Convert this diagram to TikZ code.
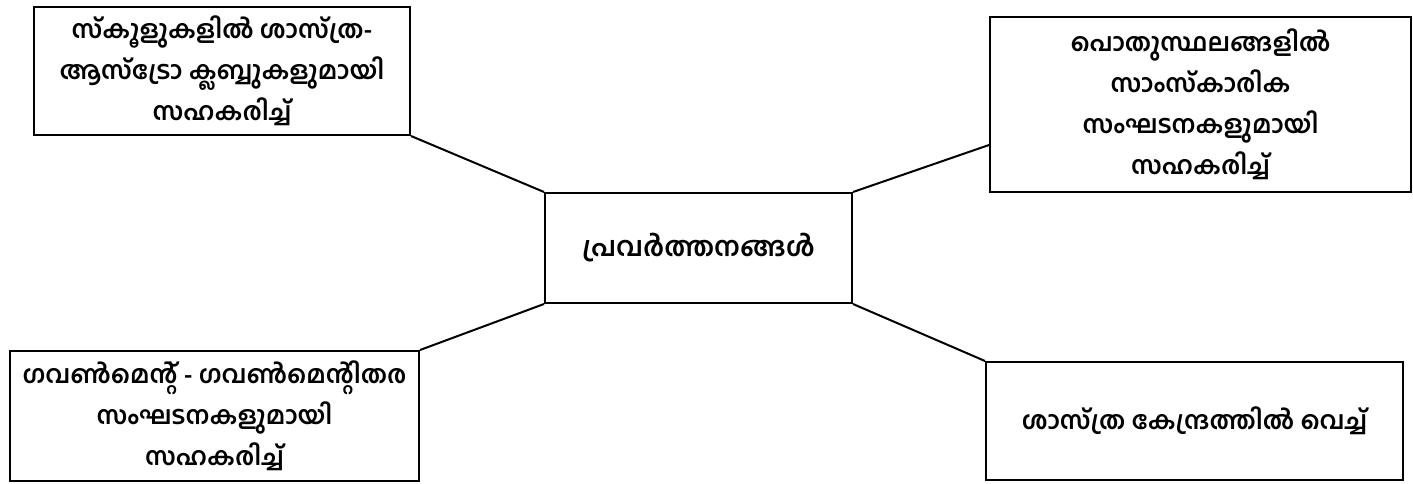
\documentclass[tikz,border=0pt]{standalone}
\usepackage{fontspec}
\newfontfamily\mlfont[Script=Malayalam]{Hind Kochi}
\tikzset{
  box/.style={draw, line width=2pt, align=center, inner sep=0pt,
    font=\mlfont\bfseries\fontsize{25}{41}\selectfont},
  link/.style={draw, line width=2pt}
}
\begin{document}
\begin{tikzpicture}[x=1pt,y=-1pt]
\useasboundingbox (0,0) rectangle (1413,483);
\node[box, minimum width=376pt, minimum height=128pt] (tl) at (222,71)
  {സ്^^^^200cകൂളുകളിൽ ശാസ്ത്ര-\\ആസ്ട്രോ ക്ലബ്ബുകളുമായി\\സഹകരിച്ച്};
\node[box, minimum width=421pt, minimum height=175pt] (tr) at (1200.5,104.5)
  {പൊതുസ്ഥലങ്ങളിൽ\\സാംസ്കാരിക\\സംഘടനകളുമായി\\സഹകരിച്ച്};
\node[box, minimum width=307pt, minimum height=110pt,
  font=\mlfont\bfseries\fontsize{27}{41}\selectfont] (c) at (698.5,248)
  {പ്രവർത്തനങ്ങൾ};
\node[box, minimum width=409pt, minimum height=130pt] (bl) at (214.5,416)
  {ഗവൺമെന്റ് - ഗവൺമെന്റിതര\\സംഘടനകളുമായി\\സഹകരിച്ച്};
\node[box, minimum width=417pt, minimum height=118pt] (br) at (1194.5,421)
  {ശാസ്ത്ര കേന്ദ്രത്തിൽ വെച്ച്};
\coordinate (trin) at ([yshift=48pt]tr.south west);
\draw[link] (tl.south east) -- (c.north west);
\draw[link] (c.north east) -- (trin);
\draw[link] (c.south west) -- (bl.north east);
\draw[link] (c.south east) -- (br.north west);
\end{tikzpicture}
\end{document}
